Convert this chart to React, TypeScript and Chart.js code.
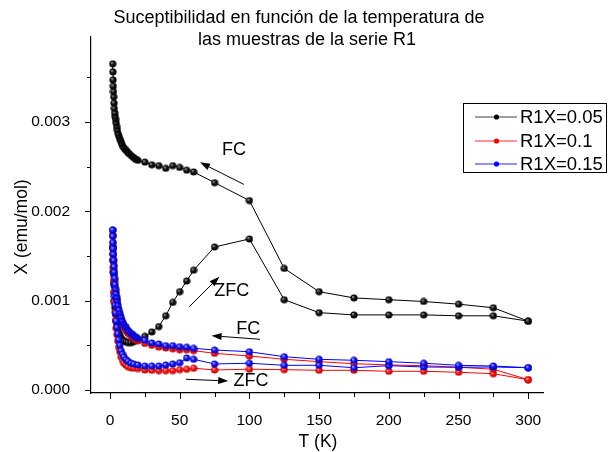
import React, { useEffect, useRef } from 'react';
import { Chart, registerables } from 'chart.js';

Chart.register(...registerables);

// Temperatures (K) of the ZFC (warming) and FC (cooling) branches
const T_ZFC = [2, 2.2, 2.4, 2.6, 2.9, 3.2, 3.6, 4, 4.5, 5, 5.6, 6.3, 7, 8, 9, 10, 11.5, 13, 15, 17, 20, 25, 30, 35, 40, 45, 50, 55, 60, 75, 100, 125, 150, 175, 200, 225, 250, 275, 300];
const T_FC = [300, 275, 250, 225, 200, 175, 150, 125, 100, 75, 60, 55, 50, 45, 40, 35, 30, 25, 20, 18.5, 17, 15.5, 14, 12.8, 11.6, 10.5, 9.5, 8.6, 7.8, 7, 6.4, 5.8, 5.3, 4.8, 4.4, 4, 3.7, 3.4, 3.1, 2.9, 2.7, 2.5, 2.35, 2.2, 2.1, 2];

// R1X=0.05
const ZFC_005 = [0.0016, 0.00145, 0.00132, 0.0012, 0.00109, 0.001, 0.00092, 0.00085, 0.00078, 0.00073, 0.00068, 0.00064, 0.00061, 0.00058, 0.00056, 0.00055, 0.00054, 0.00053, 0.00053, 0.00054, 0.00056, 0.0006, 0.00065, 0.00071, 0.00083, 0.00098, 0.0011, 0.00122, 0.00134, 0.0016, 0.00169, 0.00101, 0.000865, 0.00084, 0.00084, 0.00084, 0.00083, 0.00083, 0.00077];
const FC_005 = [0.00077, 0.00092, 0.00096, 0.00099, 0.00101, 0.00103, 0.0011, 0.00136, 0.00212, 0.00232, 0.00244, 0.00246, 0.00249, 0.00251, 0.00248, 0.00251, 0.00252, 0.00255, 0.00257, 0.00258, 0.0026, 0.00262, 0.00264, 0.00266, 0.00268, 0.0027, 0.00272, 0.00275, 0.00278, 0.00281, 0.00284, 0.00287, 0.00291, 0.00295, 0.00299, 0.00303, 0.00306, 0.0031, 0.00315, 0.00321, 0.00328, 0.00334, 0.0034, 0.00347, 0.00356, 0.00365];

// R1X=0.1
const ZFC_01 = [0.00173, 0.00152, 0.00137, 0.00123, 0.0011, 0.00098, 0.00087, 0.00078, 0.00069, 0.00062, 0.00055, 0.00048, 0.00043, 0.00037, 0.00033, 0.0003, 0.00028, 0.00026, 0.00025, 0.000245, 0.00024, 0.000224, 0.00022, 0.000216, 0.000216, 0.000216, 0.000227, 0.000232, 0.000243, 0.000224, 0.000232, 0.000227, 0.00022, 0.00022, 0.000209, 0.000209, 0.000198, 0.000182, 0.000115];
const FC_01 = [0.000115, 0.000232, 0.000254, 0.000272, 0.00028, 0.000294, 0.000317, 0.000343, 0.00038, 0.00041, 0.00044, 0.00045, 0.00045, 0.00046, 0.00047, 0.00048, 0.0005, 0.00052, 0.00055, 0.00056, 0.00058, 0.0006, 0.00062, 0.00064, 0.00066, 0.00069, 0.00072, 0.00075, 0.00079, 0.00083, 0.00087, 0.00092, 0.00097, 0.00101, 0.00105, 0.0011, 0.00115, 0.00122, 0.00128, 0.00134, 0.0014, 0.00146, 0.00152, 0.00158, 0.00165, 0.00173];

// R1X=0.15
const ZFC_015 = [0.00179, 0.0016, 0.00145, 0.0013, 0.00117, 0.00105, 0.00095, 0.00086, 0.00077, 0.0007, 0.00063, 0.00056, 0.0005, 0.00044, 0.0004, 0.00037, 0.00034, 0.00032, 0.0003, 0.00029, 0.00028, 0.000268, 0.000268, 0.000268, 0.00028, 0.000291, 0.000305, 0.000358, 0.000343, 0.000291, 0.000299, 0.000276, 0.000276, 0.000249, 0.000272, 0.000257, 0.000254, 0.000257, 0.000249];
const FC_015 = [0.000249, 0.000268, 0.000276, 0.000299, 0.000317, 0.000332, 0.000343, 0.000372, 0.000428, 0.000447, 0.000466, 0.000478, 0.000484, 0.000496, 0.000496, 0.000515, 0.000526, 0.000556, 0.000578, 0.00059, 0.00061, 0.00063, 0.00065, 0.00067, 0.0007, 0.00072, 0.00075, 0.00078, 0.00082, 0.00086, 0.0009, 0.00095, 0.001, 0.00104, 0.00108, 0.00113, 0.00118, 0.00125, 0.00132, 0.00138, 0.00145, 0.00152, 0.00158, 0.00165, 0.00172, 0.00179];

const SERIES_LABELS = ['R1X=0.05', 'R1X=0.1', 'R1X=0.15'];
const TITLE_LINES = ['Suceptibilidad en función de la temperatura de', 'las muestras de la serie R1'];
const X_TITLE = 'T (K)';
const Y_TITLE = 'X (emu/mol)';

// Annotation labels and arrows (data coordinates)
const NOTE_TEXT = ['FC', 'ZFC', 'FC', 'ZFC'];
const NOTE_TEXT_T = [88.9, 87.3, 99.2, 101.1];
const NOTE_TEXT_X = [0.002685, 0.001107, 0.000682, 0.0001];
const ARROW_FROM_T = [96.1, 56.9, 107.6, 54.5];
const ARROW_FROM_X = [0.0023, 0.000932, 0.000567, 0.00012];
const ARROW_TO_T = [64.6, 78.4, 72.9, 84.8];
const ARROW_TO_X = [0.002547, 0.001267, 0.000607, 0.0001];

const FONT = '"Liberation Sans", Arial, Helvetica, sans-serif';

function branch(ts: number[], vs: number[]) {
  return ts.map((t, i) => ({ x: t, y: vs[i] }));
}

function makeBall(light: string, base: string, dark: string): HTMLCanvasElement {
  const c = document.createElement('canvas');
  c.width = 8;
  c.height = 8;
  const g = c.getContext('2d')!;
  const grad = g.createRadialGradient(2.8, 2.8, 0.2, 4, 4, 3.8);
  grad.addColorStop(0, light);
  grad.addColorStop(0.45, base);
  grad.addColorStop(1, dark);
  g.fillStyle = grad;
  g.beginPath();
  g.arc(4, 4, 3.6, 0, Math.PI * 2);
  g.fill();
  return c;
}

function arrow(ctx: CanvasRenderingContext2D, x1: number, y1: number, x2: number, y2: number) {
  const ang = Math.atan2(y2 - y1, x2 - x1);
  const hl = 10;
  const hw = 3.5;
  const bx = x2 - hl * Math.cos(ang);
  const by = y2 - hl * Math.sin(ang);
  ctx.beginPath();
  ctx.moveTo(x1, y1);
  ctx.lineTo(bx, by);
  ctx.stroke();
  ctx.beginPath();
  ctx.moveTo(x2, y2);
  ctx.lineTo(bx - hw * Math.sin(ang), by + hw * Math.cos(ang));
  ctx.lineTo(bx + hw * Math.sin(ang), by - hw * Math.cos(ang));
  ctx.closePath();
  ctx.fill();
}

const LEGEND_LINE = ['#808080', '#ff7070', '#6b6bff'];
const LEGEND_DOT = ['#000000', '#ff0000', '#0000ff'];

const decorPlugin = {
  id: 'decor',
  afterDraw(chart: any) {
    const { ctx, chartArea } = chart;
    const x = chart.scales.x;
    const y = chart.scales.y;
    ctx.save();
    ctx.strokeStyle = '#000';
    ctx.fillStyle = '#000';
    ctx.lineWidth = 1;

    // tick marks (outward, major longer)
    x.ticks.forEach((t: any) => {
      const px = Math.round(x.getPixelForValue(t.value)) + 0.5;
      const major = Math.abs(t.value % 50) < 1e-9;
      ctx.beginPath();
      ctx.moveTo(px, chartArea.bottom);
      ctx.lineTo(px, chartArea.bottom + (major ? 6 : 4));
      ctx.stroke();
    });
    y.ticks.forEach((t: any) => {
      const py = Math.round(y.getPixelForValue(t.value)) + 0.5;
      const r = t.value * 1000;
      const major = Math.abs(r - Math.round(r)) < 1e-6;
      ctx.beginPath();
      ctx.moveTo(chartArea.left, py);
      ctx.lineTo(chartArea.left - (major ? 6 : 4), py);
      ctx.stroke();
    });

    // title
    ctx.font = `18px ${FONT}`;
    ctx.textAlign = 'center';
    ctx.textBaseline = 'alphabetic';
    ctx.fillText(TITLE_LINES[0], 299, 23);
    ctx.fillText(TITLE_LINES[1], 307, 45);

    // axis titles
    ctx.font = `17.5px ${FONT}`;
    ctx.textBaseline = 'middle';
    ctx.fillText(X_TITLE, 318, 442);
    ctx.save();
    ctx.translate(22, 227);
    ctx.rotate(-Math.PI / 2);
    ctx.fillText(Y_TITLE, 0, 0);
    ctx.restore();

    // annotations
    ctx.font = `18px ${FONT}`;
    for (let i = 0; i < NOTE_TEXT.length; i++) {
      ctx.fillText(NOTE_TEXT[i], x.getPixelForValue(NOTE_TEXT_T[i]), y.getPixelForValue(NOTE_TEXT_X[i]));
      arrow(
        ctx,
        x.getPixelForValue(ARROW_FROM_T[i]),
        y.getPixelForValue(ARROW_FROM_X[i]),
        x.getPixelForValue(ARROW_TO_T[i]),
        y.getPixelForValue(ARROW_TO_X[i])
      );
    }

    // legend
    ctx.lineWidth = 1;
    ctx.strokeRect(463.5, 103.5, 143, 69);
    const rows = [117, 141, 164];
    ctx.font = `18.5px ${FONT}`;
    ctx.textAlign = 'left';
    for (let i = 0; i < SERIES_LABELS.length; i++) {
      ctx.strokeStyle = LEGEND_LINE[i];
      ctx.lineWidth = 1.5;
      ctx.beginPath();
      ctx.moveTo(475, rows[i]);
      ctx.lineTo(517, rows[i]);
      ctx.stroke();
      ctx.fillStyle = LEGEND_DOT[i];
      ctx.beginPath();
      ctx.arc(496.5, rows[i], 2.6, 0, Math.PI * 2);
      ctx.fill();
      ctx.fillStyle = '#000';
      ctx.fillText(SERIES_LABELS[i], 520, rows[i] + 1);
    }
    ctx.restore();
  },
};

export default function App() {
  const ref = useRef<HTMLCanvasElement>(null);

  useEffect(() => {
    const balls = [
      makeBall('#9a9a9a', '#111111', '#000000'),
      makeBall('#ffb4b4', '#ff1010', '#b00000'),
      makeBall('#b4b4ff', '#1010ff', '#0000b0'),
    ];
    const colors = ['#000000', '#ff0000', '#0000ff'];
    const values = [
      [ZFC_005, FC_005],
      [ZFC_01, FC_01],
      [ZFC_015, FC_015],
    ];
    const orders = [2, 1, 0];
    const datasets = SERIES_LABELS.map((label, i) => ({
      label,
      data: [...branch(T_ZFC, values[i][0]), ...branch(T_FC, values[i][1])],
      borderColor: colors[i],
      backgroundColor: colors[i],
      borderWidth: 1,
      pointStyle: balls[i],
      pointRadius: 3.5,
      order: orders[i],
      tension: 0,
    }));

    const tickFont = { family: FONT, size: 15.5 };
    const chart = new Chart(ref.current!, {
      type: 'line',
      data: { datasets },
      plugins: [decorPlugin],
      options: {
        responsive: false,
        devicePixelRatio: 1,
        animation: false,
        parsing: true,
        layout: { padding: { top: 37, right: 65, bottom: 0, left: 0 } },
        plugins: {
          legend: { display: false },
          title: { display: false },
          tooltip: { enabled: false },
        },
        scales: {
          x: {
            type: 'linear',
            min: -13.6,
            max: 310.6,
            afterFit: (s: any) => {
              s.height = 59;
            },
            grid: { display: false },
            border: { display: true, color: '#000', width: 1.2 },
            ticks: {
              stepSize: 25,
              includeBounds: false,
              autoSkip: false,
              maxRotation: 0,
              padding: 10,
              color: '#000',
              font: tickFont,
              callback: (v: any) => (Math.abs(Number(v) % 50) < 1e-9 ? String(v) : ''),
            },
          },
          y: {
            type: 'linear',
            min: -0.000034,
            max: 0.00395,
            afterFit: (s: any) => {
              s.width = 91;
            },
            grid: { display: false },
            border: { display: true, color: '#000', width: 1.2 },
            ticks: {
              stepSize: 0.0005,
              includeBounds: false,
              autoSkip: false,
              padding: 13,
              color: '#000',
              font: tickFont,
              callback: (v: any) => {
                const r = Number(v) * 1000;
                return Math.abs(r - Math.round(r)) < 1e-6 ? Number(v).toFixed(3) : '';
              },
            },
          },
        },
      },
    } as any);
    return () => chart.destroy();
  }, []);

  return (
    <div style={{ position: 'absolute', left: 0, top: 0, width: 608, height: 452, background: '#fff' }}>
      <canvas ref={ref} width={608} height={452} style={{ display: 'block', width: 608, height: 452 }} />
    </div>
  );
}
